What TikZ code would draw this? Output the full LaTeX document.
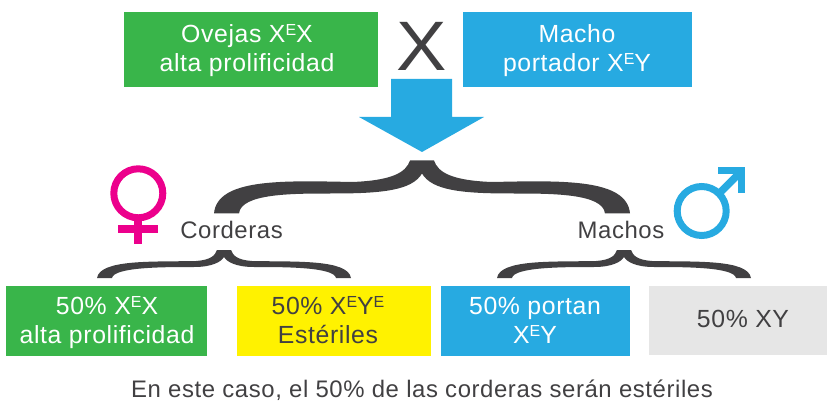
\documentclass[tikz,border=0pt]{standalone}
\usepackage{fontspec}
\setmainfont[LetterSpace=2.5]{Liberation Sans}
\definecolor{cgreen}{HTML}{39B54A}
\definecolor{cblue}{HTML}{27AAE1}
\definecolor{cyellow}{HTML}{FFF200}
\definecolor{cgrey}{HTML}{E6E6E6}
\definecolor{cmag}{HTML}{EC008C}
\definecolor{cdark}{HTML}{414042}
\newcommand{\supE}[1]{\raisebox{7pt}{\fontsize{16}{16}\selectfont #1}}
\tikzset{
  white label/.style={text=white,font=\fontsize{24.8}{29}\selectfont,align=center,inner sep=0pt,anchor=base},
  dark label/.style={text=cdark,font=\fontsize{24.8}{29}\selectfont,align=center,inner sep=0pt,anchor=base},
  small label/.style={text=cdark,font=\fontsize{23.9}{24}\selectfont,inner sep=0pt,anchor=base},
  bracefill/.style={fill=cdark,draw=none},
  smallbrace/.pic={
    \path[bracefill] (-7,0) -- (7,0)
      .. controls (9,6) and (14,10) .. (28,11)
      .. controls (70,12) and (124,9) .. (127,28)
      -- (112,28)
      .. controls (110,17) and (60,17) .. (30,17)
      .. controls (12,17) and (3,12) .. (0,7)
      .. controls (-3,12) and (-12,17) .. (-30,17)
      .. controls (-60,17) and (-110,17) .. (-112,28)
      -- (-127,28)
      .. controls (-124,9) and (-70,12) .. (-28,11)
      .. controls (-14,10) and (-9,6) .. (-7,0) -- cycle;
  },
  bigbrace/.pic={
    \path[bracefill] (-12,0) -- (12,0)
      .. controls (16,12) and (30,20) .. (70,21.5)
      .. controls (140,20) and (205,18) .. (208,53)
      -- (183,53)
      .. controls (181,33) and (130,33) .. (90,33)
      .. controls (40,33) and (10,30) .. (0,13)
      .. controls (-10,30) and (-40,33) .. (-90,33)
      .. controls (-130,33) and (-181,33) .. (-183,53)
      -- (-208,53)
      .. controls (-205,18) and (-140,20) .. (-70,21.5)
      .. controls (-30,20) and (-16,12) .. (-12,0) -- cycle;
  }
}
\begin{document}
\begin{tikzpicture}[x=1pt,y=-1pt]
\useasboundingbox (0,0) rectangle (828,401);
% top boxes
\path[fill=cgreen] (124,12) rectangle (378,87);
\path[fill=cblue] (463,12) rectangle (692,87);
\node[white label] (ovejas) at (247,72) {Ovejas X\supE{E}X\\alta prolificidad};
\node[white label] (macho) at (577,72) {Macho\\portador X\supE{E}Y};
\node[text=cdark,font=\fontsize{70}{70}\selectfont,anchor=base,inner sep=0pt,xscale=1.08] (cross) at (421.5,71) {X};
% arrow
\path[fill=cblue] (391,79) -- (452,79) -- (452,117) -- (484,117) -- (422,152) -- (359,117) -- (391,117) -- cycle;
% braces
\pic at (422,160.5) {bigbrace};
\pic at (224,250) {smallbrace};
\pic at (624,250) {smallbrace};
% labels
\node[small label] (corderas) at (231.5,239) {Corderas};
\node[small label] (machos) at (621,239) {Machos};
% symbols
\draw[cmag,line width=7pt] (138.3,193.3) circle (24.5);
\draw[cmag,line width=8pt] (138.3,218) -- (138.3,244);
\draw[cmag,line width=8pt] (118,229.3) -- (158,229.3);
\draw[cblue,line width=7pt] (701.7,211) circle (24.5);
\draw[cblue,line width=7.5pt] (718.7,194) -- (741,171.5);
\draw[cblue,line width=7pt] (718,170.5) -- (741,170.5) -- (741,193);
% bottom boxes
\path[fill=cgreen] (6,286) rectangle (207,356);
\path[fill=cyellow] (237,286) rectangle (431,356);
\path[fill=cblue] (441,286) rectangle (630,356);
\path[fill=cgrey] (649,286) rectangle (827,355);
\node[white label] (l1) at (107,343.5) {50\% X\supE{E}X\\alta prolificidad};
\node[dark label] (l2) at (328,343.5) {50\% X\supE{E}Y\supE{E}\\Estériles};
\node[white label] (l3) at (535,343.5) {50\% portan\\X\supE{E}Y};
\node[dark label] (l4) at (743,327) {50\% XY};
\node[small label] (caption) at (422,397) {En este caso, el 50\% de las corderas serán estériles};
\end{tikzpicture}
\end{document}
